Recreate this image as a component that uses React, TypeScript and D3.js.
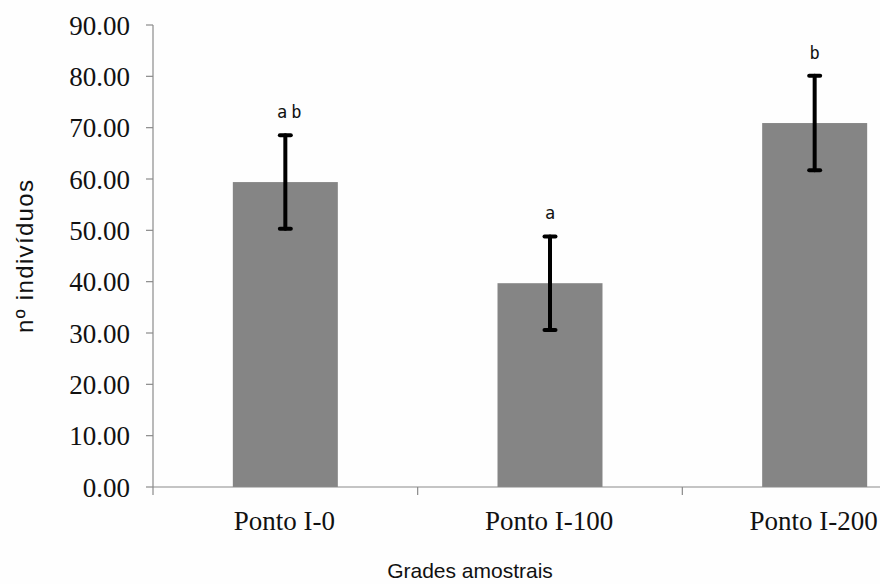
import React from "react";
import * as d3 from "d3";

const categories = ["Ponto I-0", "Ponto I-100", "Ponto I-200"];
const means = [59.4, 39.7, 70.9];
const errors = [9.1, 9.1, 9.2];
const letters = ["ab", "a", "b"];
const yTicks = [0, 10, 20, 30, 40, 50, 60, 70, 80, 90];

const W = 880;
const H = 584;

export default function App() {
  const x = d3.scaleBand<string>().domain(categories).range([153, 947]).paddingInner(0).paddingOuter(0);
  const y = d3.scaleLinear().domain([0, 90]).range([487, 25]);
  const barW = 105;
  const axisColor = "#8a8a8a";
  const boundaries = [153, ...categories.map((c) => (x(c) as number) + x.bandwidth())];
  const ls = 4;

  return (
    <svg width={W} height={H} style={{ position: "absolute", left: 0, top: 0, background: "#fefefe" }}>
      {/* y axis */}
      <line x1={153} x2={153} y1={y(90)} y2={y(0)} stroke={axisColor} strokeWidth={1.2} />
      {yTicks.map((t) => (
        <g key={t}>
          <line x1={146} x2={153} y1={y(t)} y2={y(t)} stroke={axisColor} strokeWidth={1.2} />
          <text x={130} y={y(t)} dy="0.36em" textAnchor="end" fontFamily="Liberation Serif" fontSize={27} fill="#111">
            {t.toFixed(2)}
          </text>
        </g>
      ))}
      {/* bars */}
      {categories.map((c, i) => {
        const cx = (x(c) as number) + x.bandwidth() / 2;
        return (
          <rect key={c} x={cx - barW / 2} y={y(means[i])} width={barW} height={y(0) - y(means[i])} fill="#858585" />
        );
      })}
      {/* x axis */}
      <line x1={153} x2={W} y1={y(0)} y2={y(0)} stroke={axisColor} strokeWidth={1.2} />
      {boundaries.map((b) => (
        <line key={b} x1={b} x2={b} y1={y(0)} y2={y(0) + 8} stroke={axisColor} strokeWidth={1.2} />
      ))}
      {/* error bars */}
      {categories.map((c, i) => {
        const cx = (x(c) as number) + x.bandwidth() / 2;
        const top = y(means[i] + errors[i]);
        const bot = y(means[i] - errors[i]);
        return (
          <g key={c} stroke="#000" strokeLinecap="round">
            <line x1={cx} x2={cx} y1={top} y2={bot} strokeWidth={4} />
            <line x1={cx - 5.5} x2={cx + 5.5} y1={top} y2={top} strokeWidth={4} />
            <line x1={cx - 5.5} x2={cx + 5.5} y1={bot} y2={bot} strokeWidth={4} />
          </g>
        );
      })}
      {/* letters */}
      {categories.map((c, i) => {
        const cx = (x(c) as number) + x.bandwidth() / 2;
        const top = y(means[i] + errors[i]);
        const lsp = letters[i].length > 1 ? ls : 0;
        return (
          <text
            key={c}
            x={cx + (letters[i].length > 1 ? 4 : 0) + lsp / 2}
            y={top - 17}
            textAnchor="middle"
            fontFamily="DejaVu Sans Mono"
            fontSize={17}
            letterSpacing={lsp}
            fill="#111"
          >
            {letters[i]}
          </text>
        );
      })}
      {/* x labels */}
      {categories.map((c) => {
        const cx = (x(c) as number) + x.bandwidth() / 2;
        return (
          <text key={c} x={cx - 1} y={530} textAnchor="middle" fontFamily="Liberation Serif" fontSize={27} fill="#111">
            {c}
          </text>
        );
      })}
      {/* axis titles */}
      <text x={470} y={578} textAnchor="middle" fontFamily="Liberation Sans" fontSize={21} fill="#111">
        Grades amostrais
      </text>
      <text
        transform={`translate(33,${256.5}) rotate(-90)`}
        textAnchor="middle"
        fontFamily="Liberation Sans"
        fontSize={24}
        textLength={153}
        lengthAdjust="spacing"
        fill="#111"
      >
        nº indivíduos
      </text>
    </svg>
  );
}
